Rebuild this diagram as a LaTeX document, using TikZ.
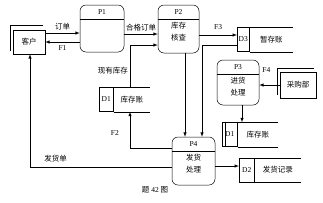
\documentclass[tikz,border=0pt]{standalone}
\usepackage{fontspec}
\setmainfont{Liberation Serif}
\newfontfamily\cjk{Noto Sans CJK SC}
\usepackage{tikz}
\usetikzlibrary{arrows}
\newcommand{\zh}[1]{{\cjk #1}}
\newcommand{\procbox}[6]{%
\node[proc,minimum width=#3,minimum height=#4] (#1) at (#2) {};
\draw ([yshift=-14pt]#1.north west) -- ([yshift=-14pt]#1.north east);
\node at ([yshift=-7pt]#1.north) {#5};
\node[align=center] at ([yshift=-27pt]#1.north) {#6};}

\begin{document}
\begin{tikzpicture}[x=1pt,y=-1pt,line width=0.5pt]
\tikzstyle{every node}=[font=\fontsize{7.5}{12}\selectfont,inner sep=0pt]
\tikzstyle{proc}=[draw,rounded corners=6pt]
\tikzstyle{ext}=[draw,minimum width=32pt,minimum height=24pt]
\tikzstyle{sid}=[draw,minimum height=24pt,anchor=west]
\tikzstyle{sname}=[minimum height=24pt,anchor=west]
\tikzstyle{flow}=[arrows={-latex}]
\useasboundingbox (0,0) rectangle (323,202);
\draw (10,51) -- (10,25) -- (43,25);
\node[ext] (kh) at (29,42) {\zh{客户}};
\draw (277,95) -- (277,68) -- (314,68);
\node[ext,minimum width=36pt,minimum height=26pt] (cg) at (298,85) {\zh{采购部}};
\procbox{p1}{102,28.5}{44pt}{47pt}{P1}{}
\procbox{p2}{178.5,29}{41pt}{48pt}{P2}{\zh{库存}\\\zh{核查}}
\procbox{p3}{238,82.5}{42pt}{45pt}{P3}{\zh{进货}\\\zh{处理}}
\procbox{p4}{193.5,161}{43pt}{48pt}{P4}{\zh{发货}\\\zh{处理}}
\node[sid,minimum width=14pt] (d1) at (99,99.5) {D1};
\node[sname,minimum width=36pt] (d1t) at (d1.east) {\zh{库存账}};
\draw (d1.north east) -- (d1t.north east) (d1.south east) -- (d1t.south east);
\node[sid,minimum width=12pt] (d3) at (237,39.5) {D3};
\node[sname,minimum width=43pt] (d3t) at (d3.east) {\zh{暂存账}};
\draw (d3.north east) -- (d3t.north east) (d3.south east) -- (d3t.south east);
\node[sid,minimum width=15pt] (d1r) at (222,134.5) {D1};
\node[sname,minimum width=40pt] (d1rt) at (d1r.east) {\zh{库存账}};
\draw (d1r.north east) -- (d1rt.north east) (d1r.south east) -- (d1rt.south east);
\draw ([xshift=3pt]d1r.north west) -- ([xshift=3pt]d1r.south west);
\node[sid,minimum width=15pt] (d2) at (239,170) {D2};
\node[sname,minimum width=46pt] (d2t) at (d2.east) {\zh{发货记录}};
\draw (d2.north east) -- (d2t.north east) (d2.south east) -- (d2t.south east);
\draw[flow] (kh.east |- 0,33) -- node[above=3pt] {\zh{订单}} (p1.west |- 0,33);
\draw[flow] (p1.west |- 0,42) -- node[below=3pt] {F1} (kh.east |- 0,42);
\draw[flow] (p1.east |- 0,34) -- node[above=3pt] {\zh{合格订单}} (p2.west |- 0,34);
\draw[flow] (d1t.north -| 130,0) |- node[pos=0.2,left=2pt] {\zh{现有库存}} (p2.west |- 0,45);
\draw[flow] (p2.east |- 0,35) -- node[above=5pt] {F3} (d3.west |- 0,35);
\draw[flow] (p2.south -| 185,0) -- (p4.north -| 185,0);
\draw[flow] (d3.west |- 0,45) -| (p4.north -| 202,0);
\draw[flow] (cg.west) -- node[pos=0.65,above=12pt] {F4} (p3.east |- cg.west);
\draw[flow] (p3.south -| 242,0) -- (d1rt.north -| 242,0);
\draw[flow] (p4.west |- 0,148) -| node[pos=0.7,left=11pt] {F2} (d1t.south -| 130,0);
\draw[flow] (p4.west |- 0,167) -| node[pos=0.41,above=5pt] {\zh{发货单}} (kh.south -| 30,0);
\draw[flow] (p4.east |- 0,166) -- (d2.west |- 0,166);
\node (cap) at (155,190) {\zh{题} 42 \zh{图}};
\end{tikzpicture}
\end{document}
